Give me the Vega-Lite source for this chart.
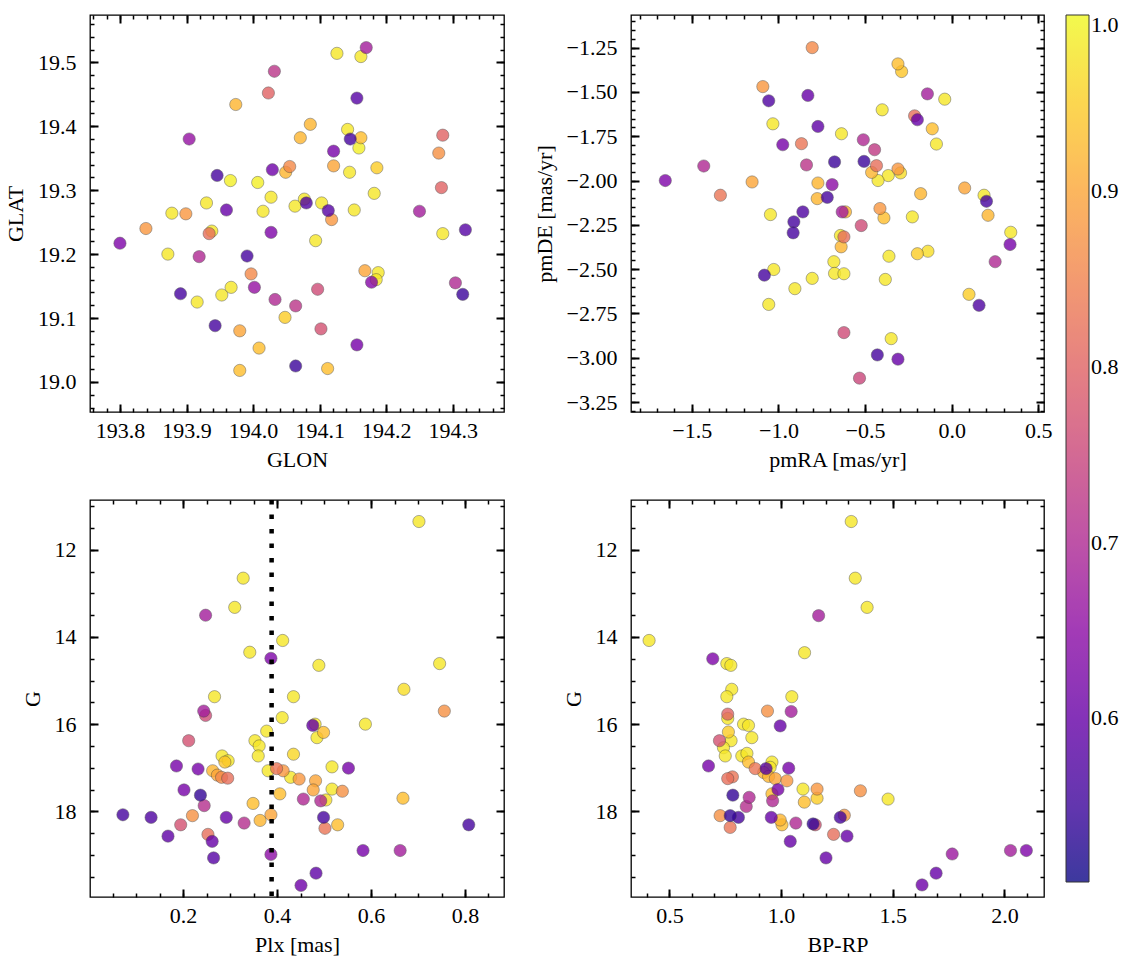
{
"$schema": "https://vega.github.io/schema/vega-lite/v6.json",
"padding": {"left": 3, "top": 13, "right": 5, "bottom": 5},
"background": "white",
"columns": 2,
"spacing": {"row": 88, "column": 127},
"bounds": "flush",
"datasets": {
"tl": [
{"GLON":194.126,"GLAT":19.514,"p":0.98},{"GLON":194.170,"GLAT":19.523,"p":0.68},{"GLON":194.162,"GLAT":19.509,"p":0.98},{"GLON":194.032,"GLAT":19.486,"p":0.72},{"GLON":194.023,"GLAT":19.452,"p":0.80},{"GLON":193.974,"GLAT":19.434,"p":0.92},{"GLON":194.156,"GLAT":19.444,"p":0.58},{"GLON":194.086,"GLAT":19.403,"p":0.92},{"GLON":193.904,"GLAT":19.380,"p":0.66},{"GLON":194.071,"GLAT":19.382,"p":0.92},
{"GLON":194.142,"GLAT":19.395,"p":0.98},{"GLON":194.146,"GLAT":19.380,"p":0.56},{"GLON":194.162,"GLAT":19.382,"p":0.93},{"GLON":194.159,"GLAT":19.366,"p":0.99},{"GLON":194.285,"GLAT":19.386,"p":0.80},{"GLON":194.279,"GLAT":19.358,"p":0.87},{"GLON":194.121,"GLAT":19.361,"p":0.62},{"GLON":193.946,"GLAT":19.323,"p":0.56},{"GLON":193.966,"GLAT":19.315,"p":0.99},{"GLON":194.007,"GLAT":19.312,"p":0.99},
{"GLON":194.029,"GLAT":19.332,"p":0.61},{"GLON":194.055,"GLAT":19.337,"p":0.86},{"GLON":194.049,"GLAT":19.328,"p":0.92},{"GLON":194.121,"GLAT":19.338,"p":0.90},{"GLON":194.145,"GLAT":19.328,"p":0.98},{"GLON":194.186,"GLAT":19.335,"p":0.95},{"GLON":194.283,"GLAT":19.304,"p":0.80},{"GLON":194.182,"GLAT":19.295,"p":0.98},{"GLON":194.027,"GLAT":19.289,"p":0.98},{"GLON":193.930,"GLAT":19.280,"p":0.98},
{"GLON":194.077,"GLAT":19.286,"p":0.98},{"GLON":194.063,"GLAT":19.275,"p":0.98},{"GLON":194.080,"GLAT":19.280,"p":0.57},{"GLON":194.103,"GLAT":19.280,"p":0.98},{"GLON":194.113,"GLAT":19.268,"p":0.58},{"GLON":194.152,"GLAT":19.269,"p":0.98},{"GLON":194.250,"GLAT":19.267,"p":0.68},{"GLON":193.960,"GLAT":19.269,"p":0.60},{"GLON":194.015,"GLAT":19.267,"p":0.98},{"GLON":193.878,"GLAT":19.264,"p":0.98},
{"GLON":193.899,"GLAT":19.263,"p":0.88},{"GLON":194.118,"GLAT":19.254,"p":0.88},{"GLON":193.839,"GLAT":19.240,"p":0.88},{"GLON":193.800,"GLAT":19.217,"p":0.63},{"GLON":193.938,"GLAT":19.236,"p":0.98},{"GLON":193.934,"GLAT":19.232,"p":0.82},{"GLON":194.027,"GLAT":19.234,"p":0.63},{"GLON":194.285,"GLAT":19.232,"p":0.98},{"GLON":194.319,"GLAT":19.238,"p":0.58},{"GLON":194.094,"GLAT":19.221,"p":0.98},
{"GLON":193.872,"GLAT":19.200,"p":0.98},{"GLON":193.919,"GLAT":19.196,"p":0.70},{"GLON":193.991,"GLAT":19.197,"p":0.56},{"GLON":193.997,"GLAT":19.169,"p":0.86},{"GLON":194.168,"GLAT":19.174,"p":0.90},{"GLON":194.188,"GLAT":19.171,"p":0.98},{"GLON":194.185,"GLAT":19.160,"p":0.98},{"GLON":194.178,"GLAT":19.156,"p":0.64},{"GLON":194.304,"GLAT":19.155,"p":0.70},{"GLON":194.315,"GLAT":19.137,"p":0.55},
{"GLON":193.891,"GLAT":19.138,"p":0.56},{"GLON":193.916,"GLAT":19.125,"p":0.98},{"GLON":193.953,"GLAT":19.136,"p":0.98},{"GLON":193.967,"GLAT":19.148,"p":0.98},{"GLON":194.002,"GLAT":19.148,"p":0.66},{"GLON":194.033,"GLAT":19.129,"p":0.70},{"GLON":194.064,"GLAT":19.119,"p":0.72},{"GLON":194.097,"GLAT":19.145,"p":0.76},{"GLON":194.048,"GLAT":19.101,"p":0.95},{"GLON":193.943,"GLAT":19.088,"p":0.56},
{"GLON":193.980,"GLAT":19.080,"p":0.90},{"GLON":194.102,"GLAT":19.083,"p":0.77},{"GLON":194.009,"GLAT":19.053,"p":0.93},{"GLON":194.156,"GLAT":19.058,"p":0.62},{"GLON":193.980,"GLAT":19.018,"p":0.93},{"GLON":194.064,"GLAT":19.025,"p":0.55},{"GLON":194.112,"GLAT":19.021,"p":0.93}
],
"tr": [
{"pmRA":-0.805,"pmDE":-1.250,"p":0.86},{"pmRA":-0.310,"pmDE":-1.342,"p":0.93},{"pmRA":-0.289,"pmDE":-1.385,"p":0.94},{"pmRA":-1.090,"pmDE":-1.470,"p":0.88},{"pmRA":-1.056,"pmDE":-1.550,"p":0.57},{"pmRA":-0.830,"pmDE":-1.520,"p":0.60},{"pmRA":-0.140,"pmDE":-1.511,"p":0.68},{"pmRA":-0.040,"pmDE":-1.541,"p":0.98},{"pmRA":-0.401,"pmDE":-1.601,"p":0.98},{"pmRA":-0.214,"pmDE":-1.635,"p":0.82},
{"pmRA":-0.198,"pmDE":-1.657,"p":0.60},{"pmRA":-1.032,"pmDE":-1.680,"p":0.98},{"pmRA":-0.772,"pmDE":-1.695,"p":0.59},{"pmRA":-0.112,"pmDE":-1.708,"p":0.93},{"pmRA":-0.636,"pmDE":-1.736,"p":0.98},{"pmRA":-0.088,"pmDE":-1.794,"p":0.98},{"pmRA":-0.975,"pmDE":-1.798,"p":0.62},{"pmRA":-0.867,"pmDE":-1.792,"p":0.83},{"pmRA":-0.510,"pmDE":-1.770,"p":0.70},{"pmRA":-0.445,"pmDE":-1.826,"p":0.73},
{"pmRA":-0.676,"pmDE":-1.895,"p":0.55},{"pmRA":-0.506,"pmDE":-1.892,"p":0.55},{"pmRA":-0.838,"pmDE":-1.912,"p":0.72},{"pmRA":-0.434,"pmDE":-1.916,"p":0.82},{"pmRA":-1.431,"pmDE":-1.918,"p":0.70},{"pmRA":-0.462,"pmDE":-1.954,"p":0.92},{"pmRA":-0.310,"pmDE":-1.935,"p":0.88},{"pmRA":-0.295,"pmDE":-1.957,"p":0.97},{"pmRA":-0.366,"pmDE":-1.972,"p":0.98},{"pmRA":-0.425,"pmDE":-2.000,"p":0.98},
{"pmRA":-1.653,"pmDE":-2.000,"p":0.63},{"pmRA":-1.152,"pmDE":-2.008,"p":0.90},{"pmRA":-0.772,"pmDE":-2.014,"p":0.92},{"pmRA":-0.690,"pmDE":-2.023,"p":0.65},{"pmRA":0.075,"pmDE":-2.042,"p":0.90},{"pmRA":-1.335,"pmDE":-2.083,"p":0.83},{"pmRA":-0.179,"pmDE":-2.074,"p":0.92},{"pmRA":0.187,"pmDE":-2.083,"p":0.98},{"pmRA":0.201,"pmDE":-2.117,"p":0.56},{"pmRA":-0.776,"pmDE":-2.102,"p":0.92},
{"pmRA":-0.718,"pmDE":-2.095,"p":0.56},{"pmRA":-0.414,"pmDE":-2.158,"p":0.88},{"pmRA":0.210,"pmDE":-2.196,"p":0.92},{"pmRA":-1.046,"pmDE":-2.192,"p":0.98},{"pmRA":-0.859,"pmDE":-2.177,"p":0.57},{"pmRA":-0.911,"pmDE":-2.233,"p":0.56},{"pmRA":-0.915,"pmDE":-2.295,"p":0.56},{"pmRA":-0.632,"pmDE":-2.177,"p":0.68},{"pmRA":-0.613,"pmDE":-2.177,"p":0.92},{"pmRA":-0.391,"pmDE":-2.211,"p":0.93},
{"pmRA":-0.227,"pmDE":-2.205,"p":0.98},{"pmRA":-0.522,"pmDE":-2.254,"p":0.76},{"pmRA":-0.642,"pmDE":-2.310,"p":0.98},{"pmRA":-0.622,"pmDE":-2.318,"p":0.82},{"pmRA":-0.638,"pmDE":-2.374,"p":0.92},{"pmRA":0.341,"pmDE":-2.292,"p":0.98},{"pmRA":0.337,"pmDE":-2.361,"p":0.62},{"pmRA":-0.362,"pmDE":-2.427,"p":0.98},{"pmRA":-0.198,"pmDE":-2.413,"p":0.95},{"pmRA":-0.137,"pmDE":-2.399,"p":0.97},
{"pmRA":0.251,"pmDE":-2.458,"p":0.70},{"pmRA":-0.680,"pmDE":-2.458,"p":0.98},{"pmRA":-1.027,"pmDE":-2.502,"p":0.98},{"pmRA":-1.081,"pmDE":-2.534,"p":0.56},{"pmRA":-0.676,"pmDE":-2.524,"p":0.98},{"pmRA":-0.622,"pmDE":-2.526,"p":0.98},{"pmRA":-0.805,"pmDE":-2.552,"p":0.98},{"pmRA":-0.383,"pmDE":-2.558,"p":0.98},{"pmRA":-0.905,"pmDE":-2.610,"p":0.98},{"pmRA":0.100,"pmDE":-2.642,"p":0.95},
{"pmRA":0.158,"pmDE":-2.704,"p":0.57},{"pmRA":-1.056,"pmDE":-2.699,"p":0.98},{"pmRA":-0.622,"pmDE":-2.858,"p":0.76},{"pmRA":-0.349,"pmDE":-2.892,"p":0.98},{"pmRA":-0.429,"pmDE":-2.984,"p":0.56},{"pmRA":-0.310,"pmDE":-3.008,"p":0.60},{"pmRA":-0.532,"pmDE":-3.115,"p":0.75}
],
"bl": [
{"Plx":0.702,"G":11.35,"p":0.98},{"Plx":0.328,"G":12.65,"p":0.98},{"Plx":0.310,"G":13.32,"p":0.98},{"Plx":0.248,"G":13.50,"p":0.68},{"Plx":0.412,"G":14.08,"p":0.98},{"Plx":0.342,"G":14.35,"p":0.98},{"Plx":0.387,"G":14.49,"p":0.63},{"Plx":0.489,"G":14.65,"p":0.98},{"Plx":0.746,"G":14.61,"p":0.98},{"Plx":0.670,"G":15.20,"p":0.97},
{"Plx":0.267,"G":15.37,"p":0.98},{"Plx":0.435,"G":15.37,"p":0.98},{"Plx":0.756,"G":15.70,"p":0.87},{"Plx":0.244,"G":15.70,"p":0.68},{"Plx":0.248,"G":15.80,"p":0.76},{"Plx":0.411,"G":15.85,"p":0.98},{"Plx":0.588,"G":16.00,"p":0.98},{"Plx":0.476,"G":16.03,"p":0.60},{"Plx":0.485,"G":16.31,"p":0.98},{"Plx":0.499,"G":16.19,"p":0.93},
{"Plx":0.481,"G":16.00,"p":0.98},{"Plx":0.378,"G":16.16,"p":0.98},{"Plx":0.353,"G":16.38,"p":0.98},{"Plx":0.362,"G":16.50,"p":0.98},{"Plx":0.360,"G":16.73,"p":0.98},{"Plx":0.212,"G":16.38,"p":0.77},{"Plx":0.435,"G":16.69,"p":0.96},{"Plx":0.283,"G":16.73,"p":0.98},{"Plx":0.289,"G":16.87,"p":0.94},{"Plx":0.296,"G":16.84,"p":0.98},
{"Plx":0.186,"G":16.96,"p":0.62},{"Plx":0.232,"G":17.03,"p":0.62},{"Plx":0.263,"G":17.07,"p":0.92},{"Plx":0.273,"G":17.17,"p":0.90},{"Plx":0.282,"G":17.22,"p":0.86},{"Plx":0.295,"G":17.24,"p":0.82},{"Plx":0.381,"G":17.07,"p":0.98},{"Plx":0.399,"G":17.02,"p":0.83},{"Plx":0.413,"G":17.07,"p":0.88},{"Plx":0.429,"G":17.22,"p":0.98},
{"Plx":0.447,"G":17.26,"p":0.88},{"Plx":0.517,"G":16.98,"p":0.98},{"Plx":0.552,"G":17.01,"p":0.62},{"Plx":0.482,"G":17.30,"p":0.90},{"Plx":0.477,"G":17.51,"p":0.90},{"Plx":0.517,"G":17.49,"p":0.98},{"Plx":0.539,"G":17.54,"p":0.87},{"Plx":0.504,"G":17.74,"p":0.97},{"Plx":0.493,"G":17.76,"p":0.70},{"Plx":0.456,"G":17.72,"p":0.70},
{"Plx":0.406,"G":17.60,"p":0.93},{"Plx":0.668,"G":17.70,"p":0.93},{"Plx":0.202,"G":17.51,"p":0.62},{"Plx":0.237,"G":17.63,"p":0.54},{"Plx":0.245,"G":17.87,"p":0.71},{"Plx":0.349,"G":17.82,"p":0.93},{"Plx":0.072,"G":18.08,"p":0.56},{"Plx":0.132,"G":18.14,"p":0.57},{"Plx":0.220,"G":18.10,"p":0.87},{"Plx":0.292,"G":18.14,"p":0.60},
{"Plx":0.330,"G":18.27,"p":0.71},{"Plx":0.364,"G":18.21,"p":0.92},{"Plx":0.387,"G":18.08,"p":0.90},{"Plx":0.499,"G":18.14,"p":0.56},{"Plx":0.502,"G":18.39,"p":0.83},{"Plx":0.529,"G":18.31,"p":0.93},{"Plx":0.808,"G":18.31,"p":0.56},{"Plx":0.195,"G":18.31,"p":0.77},{"Plx":0.168,"G":18.57,"p":0.59},{"Plx":0.253,"G":18.53,"p":0.82},
{"Plx":0.262,"G":18.69,"p":0.60},{"Plx":0.265,"G":19.07,"p":0.58},{"Plx":0.387,"G":18.99,"p":0.65},{"Plx":0.583,"G":18.90,"p":0.62},{"Plx":0.662,"G":18.90,"p":0.68},{"Plx":0.483,"G":19.42,"p":0.59},{"Plx":0.451,"G":19.70,"p":0.61}
],
"br": [
{"BPRP":1.314,"G":11.35,"p":0.98},{"BPRP":1.332,"G":12.65,"p":0.98},{"BPRP":1.385,"G":13.32,"p":0.98},{"BPRP":1.168,"G":13.51,"p":0.68},{"BPRP":0.409,"G":14.08,"p":0.98},{"BPRP":1.105,"G":14.36,"p":0.98},{"BPRP":0.694,"G":14.50,"p":0.63},{"BPRP":0.757,"G":14.61,"p":0.98},{"BPRP":0.775,"G":14.65,"p":0.98},{"BPRP":0.779,"G":15.20,"p":0.98},
{"BPRP":0.757,"G":15.37,"p":0.98},{"BPRP":1.048,"G":15.37,"p":0.98},{"BPRP":0.939,"G":15.70,"p":0.87},{"BPRP":1.045,"G":15.71,"p":0.68},{"BPRP":0.761,"G":15.77,"p":0.80},{"BPRP":0.761,"G":15.87,"p":0.98},{"BPRP":0.832,"G":16.00,"p":0.98},{"BPRP":0.854,"G":16.03,"p":0.98},{"BPRP":0.996,"G":16.04,"p":0.60},{"BPRP":0.764,"G":16.18,"p":0.95},
{"BPRP":0.776,"G":16.38,"p":0.98},{"BPRP":0.724,"G":16.38,"p":0.77},{"BPRP":0.742,"G":16.54,"p":0.98},{"BPRP":0.750,"G":16.73,"p":0.98},{"BPRP":0.869,"G":16.31,"p":0.98},{"BPRP":0.824,"G":16.73,"p":0.98},{"BPRP":0.847,"G":16.67,"p":0.98},{"BPRP":0.854,"G":16.87,"p":0.93},{"BPRP":0.675,"G":16.96,"p":0.62},{"BPRP":0.884,"G":17.02,"p":0.83},
{"BPRP":0.922,"G":17.11,"p":0.92},{"BPRP":0.933,"G":17.02,"p":0.58},{"BPRP":0.959,"G":16.87,"p":0.98},{"BPRP":0.951,"G":16.99,"p":0.98},{"BPRP":0.974,"G":17.25,"p":0.90},{"BPRP":0.944,"G":17.20,"p":0.92},{"BPRP":1.034,"G":17.01,"p":0.62},{"BPRP":1.026,"G":17.30,"p":0.88},{"BPRP":0.761,"G":17.25,"p":0.82},{"BPRP":0.782,"G":17.21,"p":0.83},
{"BPRP":0.784,"G":17.63,"p":0.54},{"BPRP":0.857,"G":17.68,"p":0.70},{"BPRP":0.844,"G":17.89,"p":0.71},{"BPRP":0.962,"G":17.76,"p":0.70},{"BPRP":0.986,"G":17.50,"p":0.62},{"BPRP":0.959,"G":17.60,"p":0.93},{"BPRP":1.098,"G":17.49,"p":0.98},{"BPRP":1.161,"G":17.49,"p":0.88},{"BPRP":1.161,"G":17.70,"p":0.95},{"BPRP":1.104,"G":17.79,"p":0.93},
{"BPRP":1.355,"G":17.53,"p":0.87},{"BPRP":1.479,"G":17.72,"p":0.98},{"BPRP":0.727,"G":18.10,"p":0.87},{"BPRP":0.772,"G":18.10,"p":0.54},{"BPRP":0.809,"G":18.14,"p":0.56},{"BPRP":0.772,"G":18.37,"p":0.83},{"BPRP":0.956,"G":18.14,"p":0.60},{"BPRP":0.996,"G":18.20,"p":0.92},{"BPRP":1.004,"G":18.31,"p":0.93},{"BPRP":1.066,"G":18.27,"p":0.70},
{"BPRP":1.143,"G":18.29,"p":0.54},{"BPRP":1.153,"G":18.31,"p":0.77},{"BPRP":1.265,"G":18.14,"p":0.56},{"BPRP":1.283,"G":18.09,"p":0.88},{"BPRP":1.235,"G":18.53,"p":0.82},{"BPRP":1.295,"G":18.57,"p":0.60},{"BPRP":1.041,"G":18.69,"p":0.60},{"BPRP":1.201,"G":19.07,"p":0.60},{"BPRP":1.766,"G":18.98,"p":0.67},{"BPRP":2.027,"G":18.90,"p":0.68},
{"BPRP":2.098,"G":18.90,"p":0.63},{"BPRP":1.694,"G":19.42,"p":0.60},{"BPRP":1.631,"G":19.69,"p":0.61}
]
},
"concat": [
{
"width": 414, "height": 397,
"data": {"name": "tl"},
"resolve": {"axis": {"x": "independent", "y": "independent"}},
"layer": [
{"mark": {"type": "circle", "size": 150, "opacity": 0.8, "stroke": "#3a3a3a", "strokeWidth": 0.5},
 "encoding": {
  "x": {"field": "GLON", "type": "quantitative", "scale": {"domain": [193.755, 194.377], "nice": false, "zero": false}, "axis": {"orient": "bottom", "values": [193.8,193.9,194.0,194.1,194.2,194.3], "format": ".1f", "title": "GLON", "tickColor": "black", "tickWidth": 2}},
  "y": {"field": "GLAT", "type": "quantitative", "scale": {"domain": [18.953, 19.574], "nice": false, "zero": false}, "axis": {"orient": "left", "values": [19.0,19.1,19.2,19.3,19.4,19.5], "format": ".1f", "title": "GLAT", "tickColor": "black", "tickWidth": 2}},
  "color": {"field": "p", "type": "quantitative", "scale": {"scheme": "plasma", "domain": [0.507, 1.0]}, "legend": {"title": null, "values": [0.6,0.7,0.8,0.9,1.0], "format": ".1f", "gradientLength": 867, "gradientThickness": 23}},
  "order": {"field": "p", "sort": "descending"}
 }},
{"mark": {"type": "circle", "opacity": 0},
 "encoding": {
  "x": {"field": "GLON", "type": "quantitative", "scale": {"domain": [193.755, 194.377], "nice": false, "zero": false}, "axis": {"orient": "top", "values": [193.8,193.9,194.0,194.1,194.2,194.3], "labels": false, "title": null, "tickColor": "black", "tickWidth": 2}},
  "y": {"field": "GLAT", "type": "quantitative", "scale": {"domain": [18.953, 19.574], "nice": false, "zero": false}, "axis": {"orient": "right", "values": [19.0,19.1,19.2,19.3,19.4,19.5], "labels": false, "title": null, "tickColor": "black", "tickWidth": 2}}
 }},
{"mark": {"type": "circle", "opacity": 0},
 "encoding": {
  "x": {"field": "GLON", "type": "quantitative", "scale": {"domain": [193.755, 194.377], "nice": false, "zero": false}, "axis": {"orient": "bottom", "values": [193.76,193.78,193.8,193.82,193.84,193.86,193.88,193.9,193.92,193.94,193.96,193.98,194.0,194.02,194.04,194.06,194.08,194.1,194.12,194.14,194.16,194.18,194.2,194.22,194.24,194.26,194.28,194.3,194.32,194.34,194.36], "labels": false, "title": null, "tickSize": 4, "offset": -4, "tickColor": "black", "tickWidth": 1.5}},
  "y": {"field": "GLAT", "type": "quantitative", "scale": {"domain": [18.953, 19.574], "nice": false, "zero": false}, "axis": {"orient": "left", "values": [18.96,18.98,19.0,19.02,19.04,19.06,19.08,19.1,19.12,19.14,19.16,19.18,19.2,19.22,19.24,19.26,19.28,19.3,19.32,19.34,19.36,19.38,19.4,19.42,19.44,19.46,19.48,19.5,19.52,19.54,19.56], "labels": false, "title": null, "tickSize": 4, "offset": -4, "tickColor": "black", "tickWidth": 1.5}}
 }},
{"mark": {"type": "circle", "opacity": 0},
 "encoding": {
  "x": {"field": "GLON", "type": "quantitative", "scale": {"domain": [193.755, 194.377], "nice": false, "zero": false}, "axis": {"orient": "top", "values": [193.76,193.78,193.8,193.82,193.84,193.86,193.88,193.9,193.92,193.94,193.96,193.98,194.0,194.02,194.04,194.06,194.08,194.1,194.12,194.14,194.16,194.18,194.2,194.22,194.24,194.26,194.28,194.3,194.32,194.34,194.36], "labels": false, "title": null, "tickSize": 4, "offset": -4, "tickColor": "black", "tickWidth": 1.5}},
  "y": {"field": "GLAT", "type": "quantitative", "scale": {"domain": [18.953, 19.574], "nice": false, "zero": false}, "axis": {"orient": "right", "values": [18.96,18.98,19.0,19.02,19.04,19.06,19.08,19.1,19.12,19.14,19.16,19.18,19.2,19.22,19.24,19.26,19.28,19.3,19.32,19.34,19.36,19.38,19.4,19.42,19.44,19.46,19.48,19.5,19.52,19.54,19.56], "labels": false, "title": null, "tickSize": 4, "offset": -4, "tickColor": "black", "tickWidth": 1.5}}
 }}
]
},
{
"width": 413, "height": 397,
"data": {"name": "tr"},
"resolve": {"axis": {"x": "independent", "y": "independent"}},
"layer": [
{"mark": {"type": "circle", "size": 150, "opacity": 0.8, "stroke": "#3a3a3a", "strokeWidth": 0.5},
 "encoding": {
  "x": {"field": "pmRA", "type": "quantitative", "scale": {"domain": [-1.851, 0.533], "nice": false, "zero": false}, "axis": {"orient": "bottom", "values": [-1.5,-1.0,-0.5,0.0,0.5], "format": ".1f", "title": "pmRA [mas/yr]", "tickColor": "black", "tickWidth": 2}},
  "y": {"field": "pmDE", "type": "quantitative", "scale": {"domain": [-3.306, -1.066], "nice": false, "zero": false}, "axis": {"orient": "left", "values": [-3.25,-3.0,-2.75,-2.5,-2.25,-2.0,-1.75,-1.5,-1.25], "format": ".2f", "title": "pmDE [mas/yr]", "tickColor": "black", "tickWidth": 2}},
  "color": {"field": "p", "type": "quantitative", "scale": {"scheme": "plasma", "domain": [0.507, 1.0]}, "legend": {"title": null, "values": [0.6,0.7,0.8,0.9,1.0], "format": ".1f", "gradientLength": 867, "gradientThickness": 23}},
  "order": {"field": "p", "sort": "descending"}
 }},
{"mark": {"type": "circle", "opacity": 0},
 "encoding": {
  "x": {"field": "pmRA", "type": "quantitative", "scale": {"domain": [-1.851, 0.533], "nice": false, "zero": false}, "axis": {"orient": "top", "values": [-1.5,-1.0,-0.5,0.0,0.5], "labels": false, "title": null, "tickColor": "black", "tickWidth": 2}},
  "y": {"field": "pmDE", "type": "quantitative", "scale": {"domain": [-3.306, -1.066], "nice": false, "zero": false}, "axis": {"orient": "right", "values": [-3.25,-3.0,-2.75,-2.5,-2.25,-2.0,-1.75,-1.5,-1.25], "labels": false, "title": null, "tickColor": "black", "tickWidth": 2}}
 }},
{"mark": {"type": "circle", "opacity": 0},
 "encoding": {
  "x": {"field": "pmRA", "type": "quantitative", "scale": {"domain": [-1.851, 0.533], "nice": false, "zero": false}, "axis": {"orient": "bottom", "values": [-1.8,-1.7,-1.6,-1.5,-1.4,-1.3,-1.2,-1.1,-1.0,-0.9,-0.8,-0.7,-0.6,-0.5,-0.4,-0.3,-0.2,-0.1,0.0,0.1,0.2,0.3,0.4,0.5], "labels": false, "title": null, "tickSize": 4, "offset": -4, "tickColor": "black", "tickWidth": 1.5}},
  "y": {"field": "pmDE", "type": "quantitative", "scale": {"domain": [-3.306, -1.066], "nice": false, "zero": false}, "axis": {"orient": "left", "values": [-3.3,-3.25,-3.2,-3.15,-3.1,-3.05,-3.0,-2.95,-2.9,-2.85,-2.8,-2.75,-2.7,-2.65,-2.6,-2.55,-2.5,-2.45,-2.4,-2.35,-2.3,-2.25,-2.2,-2.15,-2.1,-2.05,-2.0,-1.95,-1.9,-1.85,-1.8,-1.75,-1.7,-1.65,-1.6,-1.55,-1.5,-1.45,-1.4,-1.35,-1.3,-1.25,-1.2,-1.15,-1.1], "labels": false, "title": null, "tickSize": 4, "offset": -4, "tickColor": "black", "tickWidth": 1.5}}
 }},
{"mark": {"type": "circle", "opacity": 0},
 "encoding": {
  "x": {"field": "pmRA", "type": "quantitative", "scale": {"domain": [-1.851, 0.533], "nice": false, "zero": false}, "axis": {"orient": "top", "values": [-1.8,-1.7,-1.6,-1.5,-1.4,-1.3,-1.2,-1.1,-1.0,-0.9,-0.8,-0.7,-0.6,-0.5,-0.4,-0.3,-0.2,-0.1,0.0,0.1,0.2,0.3,0.4,0.5], "labels": false, "title": null, "tickSize": 4, "offset": -4, "tickColor": "black", "tickWidth": 1.5}},
  "y": {"field": "pmDE", "type": "quantitative", "scale": {"domain": [-3.306, -1.066], "nice": false, "zero": false}, "axis": {"orient": "right", "values": [-3.3,-3.25,-3.2,-3.15,-3.1,-3.05,-3.0,-2.95,-2.9,-2.85,-2.8,-2.75,-2.7,-2.65,-2.6,-2.55,-2.5,-2.45,-2.4,-2.35,-2.3,-2.25,-2.2,-2.15,-2.1,-2.05,-2.0,-1.95,-1.9,-1.85,-1.8,-1.75,-1.7,-1.65,-1.6,-1.55,-1.5,-1.45,-1.4,-1.35,-1.3,-1.25,-1.2,-1.15,-1.1], "labels": false, "title": null, "tickSize": 4, "offset": -4, "tickColor": "black", "tickWidth": 1.5}}
 }}
]
},
{
"width": 414, "height": 397,
"data": {"name": "bl"},
"resolve": {"axis": {"x": "independent", "y": "independent"}},
"layer": [
{"mark": {"type": "circle", "size": 150, "opacity": 0.8, "stroke": "#3a3a3a", "strokeWidth": 0.5},
 "encoding": {
  "x": {"field": "Plx", "type": "quantitative", "scale": {"domain": [0.002, 0.883], "nice": false, "zero": false}, "axis": {"orient": "bottom", "values": [0.2,0.4,0.6,0.8], "format": ".1f", "title": "Plx [mas]", "tickColor": "black", "tickWidth": 2}},
  "y": {"field": "G", "type": "quantitative", "scale": {"domain": [10.856, 19.967], "reverse": true, "nice": false, "zero": false}, "axis": {"orient": "left", "values": [12,14,16,18], "format": "d", "title": "G", "tickColor": "black", "tickWidth": 2}},
  "color": {"field": "p", "type": "quantitative", "scale": {"scheme": "plasma", "domain": [0.507, 1.0]}, "legend": {"title": null, "values": [0.6,0.7,0.8,0.9,1.0], "format": ".1f", "gradientLength": 867, "gradientThickness": 23}},
  "order": {"field": "p", "sort": "descending"}
 }},
{"mark": {"type": "circle", "opacity": 0},
 "encoding": {
  "x": {"field": "Plx", "type": "quantitative", "scale": {"domain": [0.002, 0.883], "nice": false, "zero": false}, "axis": {"orient": "top", "values": [0.2,0.4,0.6,0.8], "labels": false, "title": null, "tickColor": "black", "tickWidth": 2}},
  "y": {"field": "G", "type": "quantitative", "scale": {"domain": [10.856, 19.967], "reverse": true, "nice": false, "zero": false}, "axis": {"orient": "right", "values": [12,14,16,18], "labels": false, "title": null, "tickColor": "black", "tickWidth": 2}}
 }},
{"mark": {"type": "circle", "opacity": 0},
 "encoding": {
  "x": {"field": "Plx", "type": "quantitative", "scale": {"domain": [0.002, 0.883], "nice": false, "zero": false}, "axis": {"orient": "bottom", "values": [0.05,0.1,0.15,0.2,0.25,0.3,0.35,0.4,0.45,0.5,0.55,0.6,0.65,0.7,0.75,0.8,0.85], "labels": false, "title": null, "tickSize": 4, "offset": -4, "tickColor": "black", "tickWidth": 1.5}},
  "y": {"field": "G", "type": "quantitative", "scale": {"domain": [10.856, 19.967], "reverse": true, "nice": false, "zero": false}, "axis": {"orient": "left", "values": [11,11.5,12,12.5,13,13.5,14,14.5,15,15.5,16,16.5,17,17.5,18,18.5,19,19.5], "labels": false, "title": null, "tickSize": 4, "offset": -4, "tickColor": "black", "tickWidth": 1.5}}
 }},
{"mark": {"type": "circle", "opacity": 0},
 "encoding": {
  "x": {"field": "Plx", "type": "quantitative", "scale": {"domain": [0.002, 0.883], "nice": false, "zero": false}, "axis": {"orient": "top", "values": [0.05,0.1,0.15,0.2,0.25,0.3,0.35,0.4,0.45,0.5,0.55,0.6,0.65,0.7,0.75,0.8,0.85], "labels": false, "title": null, "tickSize": 4, "offset": -4, "tickColor": "black", "tickWidth": 1.5}},
  "y": {"field": "G", "type": "quantitative", "scale": {"domain": [10.856, 19.967], "reverse": true, "nice": false, "zero": false}, "axis": {"orient": "right", "values": [11,11.5,12,12.5,13,13.5,14,14.5,15,15.5,16,16.5,17,17.5,18,18.5,19,19.5], "labels": false, "title": null, "tickSize": 4, "offset": -4, "tickColor": "black", "tickWidth": 1.5}}
 }},
{"data": {"values": [{"cut": "plx"}]},
 "mark": {"type": "rule", "color": "black", "strokeWidth": 4.5, "strokeDash": [4.5, 10]},
 "encoding": {
  "x": {"datum": 0.3885, "type": "quantitative", "scale": {"domain": [0.002, 0.883], "nice": false, "zero": false}, "axis": null}
 }}
]
},
{
"width": 413, "height": 397,
"data": {"name": "br"},
"resolve": {"axis": {"x": "independent", "y": "independent"}},
"layer": [
{"mark": {"type": "circle", "size": 150, "opacity": 0.8, "stroke": "#3a3a3a", "strokeWidth": 0.5},
 "encoding": {
  "x": {"field": "BPRP", "type": "quantitative", "scale": {"domain": [0.328, 2.177], "nice": false, "zero": false}, "axis": {"orient": "bottom", "values": [0.5,1.0,1.5,2.0], "format": ".1f", "title": "BP-RP", "tickColor": "black", "tickWidth": 2}},
  "y": {"field": "G", "type": "quantitative", "scale": {"domain": [10.856, 19.967], "reverse": true, "nice": false, "zero": false}, "axis": {"orient": "left", "values": [12,14,16,18], "format": "d", "title": "G", "tickColor": "black", "tickWidth": 2}},
  "color": {"field": "p", "type": "quantitative", "scale": {"scheme": "plasma", "domain": [0.507, 1.0]}, "legend": {"title": null, "values": [0.6,0.7,0.8,0.9,1.0], "format": ".1f", "gradientLength": 867, "gradientThickness": 23}},
  "order": {"field": "p", "sort": "descending"}
 }},
{"mark": {"type": "circle", "opacity": 0},
 "encoding": {
  "x": {"field": "BPRP", "type": "quantitative", "scale": {"domain": [0.328, 2.177], "nice": false, "zero": false}, "axis": {"orient": "top", "values": [0.5,1.0,1.5,2.0], "labels": false, "title": null, "tickColor": "black", "tickWidth": 2}},
  "y": {"field": "G", "type": "quantitative", "scale": {"domain": [10.856, 19.967], "reverse": true, "nice": false, "zero": false}, "axis": {"orient": "right", "values": [12,14,16,18], "labels": false, "title": null, "tickColor": "black", "tickWidth": 2}}
 }},
{"mark": {"type": "circle", "opacity": 0},
 "encoding": {
  "x": {"field": "BPRP", "type": "quantitative", "scale": {"domain": [0.328, 2.177], "nice": false, "zero": false}, "axis": {"orient": "bottom", "values": [0.4,0.5,0.6,0.7,0.8,0.9,1.0,1.1,1.2,1.3,1.4,1.5,1.6,1.7,1.8,1.9,2.0,2.1], "labels": false, "title": null, "tickSize": 4, "offset": -4, "tickColor": "black", "tickWidth": 1.5}},
  "y": {"field": "G", "type": "quantitative", "scale": {"domain": [10.856, 19.967], "reverse": true, "nice": false, "zero": false}, "axis": {"orient": "left", "values": [11,11.5,12,12.5,13,13.5,14,14.5,15,15.5,16,16.5,17,17.5,18,18.5,19,19.5], "labels": false, "title": null, "tickSize": 4, "offset": -4, "tickColor": "black", "tickWidth": 1.5}}
 }},
{"mark": {"type": "circle", "opacity": 0},
 "encoding": {
  "x": {"field": "BPRP", "type": "quantitative", "scale": {"domain": [0.328, 2.177], "nice": false, "zero": false}, "axis": {"orient": "top", "values": [0.4,0.5,0.6,0.7,0.8,0.9,1.0,1.1,1.2,1.3,1.4,1.5,1.6,1.7,1.8,1.9,2.0,2.1], "labels": false, "title": null, "tickSize": 4, "offset": -4, "tickColor": "black", "tickWidth": 1.5}},
  "y": {"field": "G", "type": "quantitative", "scale": {"domain": [10.856, 19.967], "reverse": true, "nice": false, "zero": false}, "axis": {"orient": "right", "values": [11,11.5,12,12.5,13,13.5,14,14.5,15,15.5,16,16.5,17,17.5,18,18.5,19,19.5], "labels": false, "title": null, "tickSize": 4, "offset": -4, "tickColor": "black", "tickWidth": 1.5}}
 }}
]
}
],
"config": {
 "font": "Liberation Serif",
 "view": {"stroke": "black", "strokeWidth": 1.3},
 "axis": {"domain": false, "grid": false, "ticks": true, "tickColor": "black", "tickWidth": 2, "tickOpacity": 1, "tickSize": 8, "offset": -8, "zindex": 1, "labelFont": "Liberation Serif", "labelFontSize": 22, "labelColor": "black", "titleFont": "Liberation Serif", "titleFontSize": 22, "titleFontWeight": "normal", "titleColor": "black", "labelFlush": false, "labelOverlap": false},
 "axisBottom": {"labelPadding": 8, "titlePadding": 8},
 "axisLeft": {"labelPadding": 14, "titlePadding": 10},
 "legend": {"offset": 13, "labelFont": "Liberation Serif", "labelFontSize": 22, "labelColor": "black", "labelOffset": 7, "labelBaseline": "middle", "gradientStrokeColor": "black", "gradientStrokeWidth": 1, "padding": 0}
}
}
